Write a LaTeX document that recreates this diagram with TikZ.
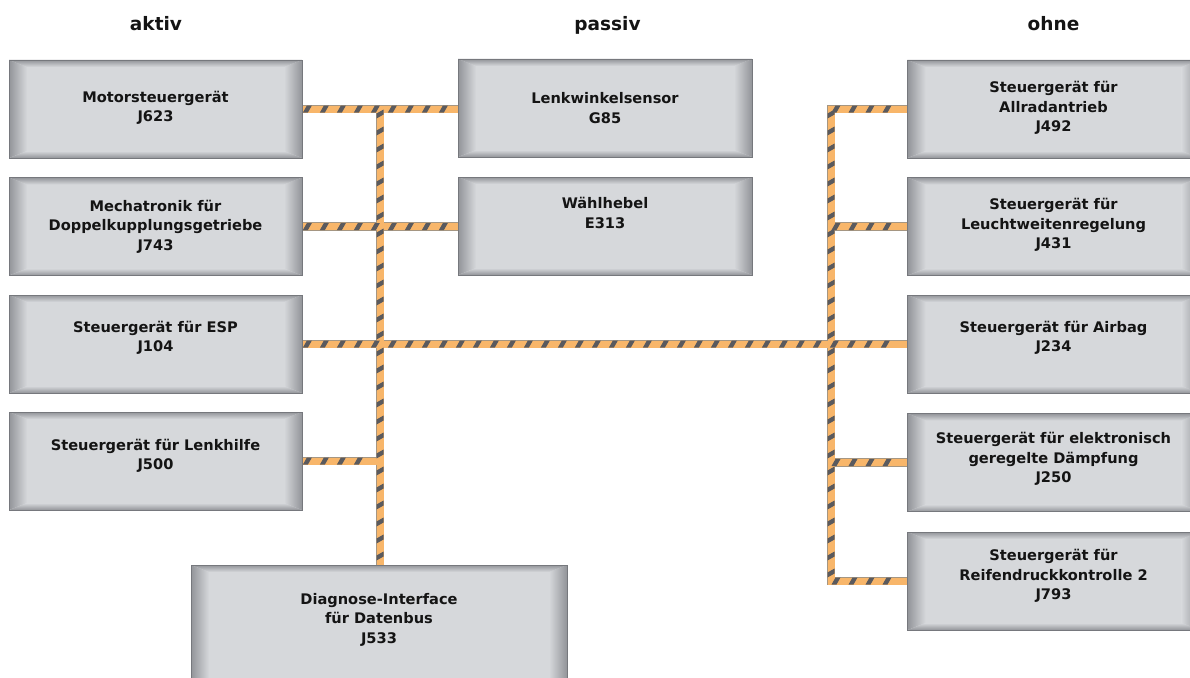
\documentclass[tikz,border=0pt]{standalone}
\usepackage{fontspec}
\setmainfont{DejaVu Sans}
\usetikzlibrary{decorations.markings,backgrounds}
\definecolor{boxlight}{RGB}{214,216,219}
\definecolor{boxdark}{RGB}{146,148,153}
\definecolor{boxborder}{RGB}{118,120,125}
\definecolor{busorange}{RGB}{248,182,106}
\definecolor{busedgecol}{RGB}{165,150,130}
\definecolor{busstripe}{RGB}{90,90,94}
\definecolor{txt}{RGB}{20,20,20}
\tikzset{
  ecu/.style={rectangle, draw=boxborder, line width=0.8pt, inner sep=0pt,
    path picture={
      \fill[boxlight] (path picture bounding box.south west) rectangle (path picture bounding box.north east);
      \shade[left color=boxdark, right color=boxlight]
        (path picture bounding box.south west) -- (path picture bounding box.north west)
        -- ([xshift=18pt,yshift=-7pt]path picture bounding box.north west)
        -- ([xshift=18pt,yshift=7pt]path picture bounding box.south west) -- cycle;
      \shade[left color=boxlight, right color=boxdark]
        (path picture bounding box.south east) -- (path picture bounding box.north east)
        -- ([xshift=-18pt,yshift=-7pt]path picture bounding box.north east)
        -- ([xshift=-18pt,yshift=7pt]path picture bounding box.south east) -- cycle;
      \shade[top color=boxdark, bottom color=boxlight]
        (path picture bounding box.north west) -- (path picture bounding box.north east)
        -- ([xshift=-18pt,yshift=-7pt]path picture bounding box.north east)
        -- ([xshift=18pt,yshift=-7pt]path picture bounding box.north west) -- cycle;
      \shade[bottom color=boxdark, top color=boxlight]
        (path picture bounding box.south west) -- (path picture bounding box.south east)
        -- ([xshift=-18pt,yshift=7pt]path picture bounding box.south east)
        -- ([xshift=18pt,yshift=7pt]path picture bounding box.south west) -- cycle;
    }},
  colL/.style={ecu, minimum width=293pt, minimum height=98pt},
  colM/.style={ecu, minimum width=294pt, minimum height=98pt},
  colR/.style={ecu, minimum width=292pt, minimum height=98pt},
  ecutext/.style={align=center, text=txt, inner sep=0pt,
    font=\bfseries\fontsize{14.6}{19.5}\selectfont},
  header/.style={anchor=base, text=txt, inner sep=0pt,
    font=\bfseries\fontsize{18.5}{22}\selectfont},
  busedge/.style={draw=busedgecol, line width=8.4pt, line cap=rect},
  busfill/.style={draw=busorange, line width=7pt, line cap=rect},
  stripeh/.style={draw=none, decorate, decoration={markings,
    mark=between positions 5pt and -5pt step 17pt with {
      \fill[busstripe] (-4.5pt,-3.5pt) -- (0.5pt,-3.5pt) -- (4.5pt,3.5pt) -- (-0.5pt,3.5pt) -- cycle;}}},
  stripev/.style={draw=none, decorate, decoration={markings,
    mark=between positions 5pt and -5pt step 17pt with {
      \fill[busstripe] (-0.5pt,-3.5pt) -- (4.5pt,-3.5pt) -- (0.5pt,3.5pt) -- (-4.5pt,3.5pt) -- cycle;}}},
}
\newcommand\hbusroutes[1]{%
  \draw[#1] (j623.east) -- (j623.east -| g85.west);
  \draw[#1] (j743.east) -- (j743.east -| e313.west);
  \draw[#1] (j104.east) -- (j104.east -| j234.west);
  \draw[#1] (j500.east) -- (j500.east -| lbtop);
  \draw[#1] (rbtop) -- (rbtop -| j492.west);
  \draw[#1] (j431.west -| rbtop) -- (j431.west);
  \draw[#1] (j250.west -| rbtop) -- (j250.west);
  \draw[#1] (rbbot) -- (rbbot -| j793.west);
}
\newcommand\vbusroutes[1]{%
  \draw[#1] (lbtop) -- (lbtop |- j533.north);
  \draw[#1] (rbtop) -- (rbbot);
}
\begin{document}
\begin{tikzpicture}[x=1pt,y=-1pt]
\useasboundingbox (0,0) rectangle (1190,677);

% headers
\node[header] (hA) at (156,31) {aktiv};
\node[header] (hP) at (607.5,31) {passiv};
\node[header] (hO) at (1053.5,31) {ohne};

% left column
\node[colL] (j623) at (155.5,109) {};
\node[colL] (j743) at (155.5,226.5) {};
\node[colL] (j104) at (155.5,344) {};
\node[colL] (j500) at (155.5,461) {};
% middle column
\node[colM] (g85) at (605,108) {};
\node[colM] (e313) at (605,226) {};
% right column
\node[colR] (j492) at (1053.5,109) {};
\node[colR] (j431) at (1053.5,226.5) {};
\node[colR] (j234) at (1053.5,344) {};
\node[colR] (j250) at (1053.5,462.5) {};
\node[colR] (j793) at (1053.5,581) {};
% diagnose interface
\node[ecu, minimum width=376pt, minimum height=120pt] (j533) at (379,625) {};

% texts
\node[ecutext] (j623t) at (155.5,108) {Motorsteuergerät\\J623};
\node[ecutext] (j743t) at (155.5,226.5) {Mechatronik für\\Doppelkupplungsgetriebe\\J743};
\node[ecutext] (j104t) at (155.5,338) {Steuergerät für ESP\\J104};
\node[ecutext] (j500t) at (155.5,456) {Steuergerät für Lenkhilfe\\J500};
\node[ecutext] (g85t) at (605,108) {Lenkwinkelsensor\\G85};
\node[ecutext] (e313t) at (605,213) {Wählhebel\\E313};
\node[ecutext] (j492t) at (1053.5,108) {Steuergerät für\\Allradantrieb\\J492};
\node[ecutext] (j431t) at (1053.5,225) {Steuergerät für\\Leuchtweitenregelung\\J431};
\node[ecutext] (j234t) at (1053.5,338) {Steuergerät für Airbag\\J234};
\node[ecutext] (j250t) at (1053.5,459) {Steuergerät für elektronisch\\geregelte Dämpfung\\J250};
\node[ecutext] (j793t) at (1053.5,576) {Steuergerät für\\Reifendruckkontrolle 2\\J793};
\node[ecutext] (j533t) at (379,619.5) {Diagnose-Interface\\für Datenbus\\J533};

% bus junction points
\coordinate (lbtop) at (380,109);
\coordinate (rbtop) at (831,109);
\coordinate (rbbot) at (831,581);

\begin{pgfonlayer}{background}
  \fill[white] (0,0) rectangle (1190,677);
  \hbusroutes{busedge}\vbusroutes{busedge}
  \hbusroutes{busfill}\vbusroutes{busfill}
  \hbusroutes{stripeh}\vbusroutes{stripev}
\end{pgfonlayer}
\end{tikzpicture}
\end{document}
